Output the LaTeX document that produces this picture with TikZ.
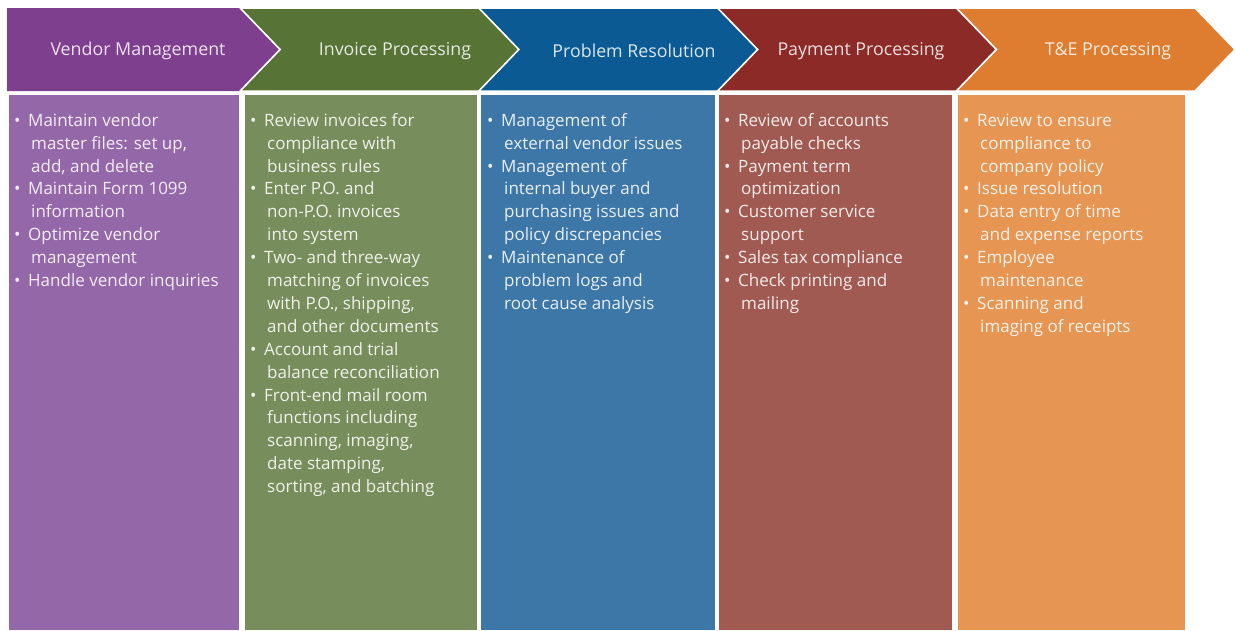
\documentclass[tikz,border=0pt]{standalone}
\usepackage{fontspec}
\setmainfont{Open Sans}
\definecolor{h1}{HTML}{7E3F8F}\definecolor{b1}{HTML}{9467A9}
\definecolor{h2}{HTML}{577335}\definecolor{b2}{HTML}{778D5B}
\definecolor{h3}{HTML}{0B5A94}\definecolor{b3}{HTML}{3D77A8}
\definecolor{h4}{HTML}{8B2A27}\definecolor{b4}{HTML}{A05A52}
\definecolor{h5}{HTML}{DE7D30}\definecolor{b5}{HTML}{E69552}
\newcommand{\blist}[1]{\fontsize{17}{22.9}\selectfont\begin{tabular}{@{}p{14pt}@{}l@{}}#1\end{tabular}}
\newcommand{\bi}{\textbullet&}
\newcommand{\ci}{&\hspace{3pt}}
\tikzset{
  headtext/.style={font=\fontsize{17.8}{20}\selectfont, anchor=center},
  bodytext/.style={anchor=north west, inner sep=0pt, align=left},
  chev/.style={draw=white, line width=1.5pt, line join=miter},
}
\begin{document}
\begin{tikzpicture}[x=1pt,y=-1pt]
\path[fill=white] (0,0) rectangle (1235,630);
\useasboundingbox (0,0) rectangle (1235,630);
% chevrons
\foreach \i/\c in {5/h5,4/h4,3/h3,2/h2}{
  \pgfmathsetmacro{\R}{240+238.75*(\i-1)}
  \pgfmathsetmacro{\L}{\R-238.75}
  \pgfmathsetmacro{\T}{\R+40}
  \pgfmathsetmacro{\N}{\L+40}
  \fill[\c] (\L,8) -- (\R,8) -- (\T,49.5) -- (\R,91) -- (\L,91) -- (\N,49.5) -- cycle;
  \draw[chev] (\L,8) -- (\R,8) -- (\T,49.5) -- (\R,91) -- (\L,91) -- (\N,49.5) -- cycle;
}
\fill[h1] (7,8) -- (240,8) -- (280,49.5) -- (240,91) -- (7,91) -- cycle;
\draw[chev] (240,8) -- (280,49.5) -- (240,91);
% header texts
\node[headtext, text=white!85!h1] (t1) at (138,51) {Vendor Management};
\node[headtext, text=white!85!h2] (t2) at (395,51) {Invoice Processing};
\node[headtext, text=white!85!h3] (t3) at (634,51) {Problem Resolution};
\node[headtext, text=white!85!h4] (t4) at (861,51) {Payment Processing};
\node[headtext, text=white!85!h5] (t5) at (1108,51) {T\&E Processing};
% boxes
\fill[b1] (9,95) rectangle (239,630);
\fill[b2] (245,95) rectangle (477,630);
\fill[b3] (481,95) rectangle (715,630);
\fill[b4] (719,95) rectangle (952,630);
\fill[b5] (958,95) rectangle (1185,630);
% body texts
\node[bodytext, text=white!88!b1] (c1) at (14,110) {\blist{
\bi Maintain vendor\\
\ci master files: set up,\\
\ci add, and delete\\
\bi Maintain Form 1099\\
\ci information\\
\bi Optimize vendor\\
\ci management\\
\bi Handle vendor inquiries}};
\node[bodytext, text=white!88!b2] (c2) at (250,110) {\blist{
\bi Review invoices for\\
\ci compliance with\\
\ci business rules\\
\bi Enter P.O. and\\
\ci non-P.O. invoices\\
\ci into system\\
\bi Two- and three-way\\
\ci matching of invoices\\
\ci with P.O., shipping,\\
\ci and other documents\\
\bi Account and trial\\
\ci balance reconciliation\\
\bi Front-end mail room\\
\ci functions including\\
\ci scanning, imaging,\\
\ci date stamping,\\
\ci sorting, and batching}};
\node[bodytext, text=white!88!b3] (c3) at (487,110) {\blist{
\bi Management of\\
\ci external vendor issues\\
\bi Management of\\
\ci internal buyer and\\
\ci purchasing issues and\\
\ci policy discrepancies\\
\bi Maintenance of\\
\ci problem logs and\\
\ci root cause analysis}};
\node[bodytext, text=white!88!b4] (c4) at (724,110) {\blist{
\bi Review of accounts\\
\ci payable checks\\
\bi Payment term\\
\ci optimization\\
\bi Customer service\\
\ci support\\
\bi Sales tax compliance\\
\bi Check printing and\\
\ci mailing}};
\node[bodytext, text=white!88!b5] (c5) at (963,110) {\blist{
\bi Review to ensure\\
\ci compliance to\\
\ci company policy\\
\bi Issue resolution\\
\bi Data entry of time\\
\ci and expense reports\\
\bi Employee\\
\ci maintenance\\
\bi Scanning and\\
\ci imaging of receipts}};
\end{tikzpicture}
\end{document}
